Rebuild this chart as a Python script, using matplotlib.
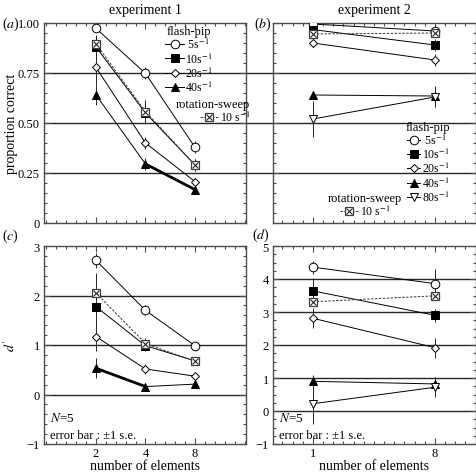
import numpy as np
import matplotlib
matplotlib.use("Agg")
import matplotlib.pyplot as plt
from matplotlib.lines import Line2D
from matplotlib.legend_handler import HandlerTuple
from matplotlib.ticker import FixedLocator, NullFormatter, MultipleLocator

plt.rcParams['font.family'] = ['Liberation Serif', 'DejaVu Serif']
plt.rcParams['mathtext.fontset'] = 'stix'
plt.rcParams['font.size'] = 9

# ---- data: experiment 1 (x = number of elements) ----
x_exp1 = [2, 4, 8]
# proportion correct
a_5 = [0.973, 0.748, 0.378];   a_5_err = [0.01, 0.03, 0.03]
a_10 = [0.88, 0.55, 0.29];     a_10_err = [0.06, 0.05, 0.03]
a_20 = [0.778, 0.40, 0.207];   a_20_err = [0.09, 0.03, 0.02]
a_40 = [0.64, 0.295, 0.167];   a_40_err = [0.05, 0.03, 0.02]
a_rot = [0.895, 0.557, 0.29];  a_rot_err = [0.04, 0.06, 0.03]
# d'
c_5 = [2.71, 1.70, 0.985];     c_5_err = [0.15, 0.1, 0.05]
c_10 = [1.775, 0.985, 0.68];   c_10_err = [0.35, 0.1, 0.05]
c_20 = [1.17, 0.515, 0.37];    c_20_err = [0.3, 0.1, 0.05]
c_40 = [0.53, 0.16, 0.21];     c_40_err = [0.2, 0.08, 0.05]
c_rot = [2.05, 1.03, 0.67];    c_rot_err = [0.4, 0.12, 0.05]

# ---- data: experiment 2 ----
x_exp2 = [1, 8]
b_5 = [0.995, 0.96];   b_5_err = [0.01, 0.03]
b_10 = [0.967, 0.89];  b_10_err = [0.02, 0.03]
b_20 = [0.90, 0.815];  b_20_err = [0.02, 0.03]
b_40 = [0.64, 0.635];  b_40_err = [0.01, 0.05]
b_80 = [0.52, 0.63];   b_80_err = [0.09, 0.05]
b_rot = [0.945, 0.95]; b_rot_err = [0.01, 0.01]
d_5 = [4.36, 3.86];    d_5_err = [0.2, 0.45]
d_10 = [3.64, 2.90];   d_10_err = [0.4, 0.2]
d_20 = [2.81, 1.92];   d_20_err = [0.3, 0.3]
d_40 = [0.90, 0.82];   d_40_err = [0.2, 0.2]
d_80 = [0.22, 0.72];   d_80_err = [0.6, 0.3]
d_rot = [3.31, 3.49];  d_rot_err = [0.05, 0.05]

a_yticks = [0, 0.25, 0.5, 0.75, 1.0]
a_yticklabels = ['0', '0.25', '0.50', '0.75', '1.00']
rate_labels = [' 5s$^{-1}$', '10s$^{-1}$', '20s$^{-1}$', '40s$^{-1}$', '80s$^{-1}$']
rot_label = '10 s$^{-1}$'

styles = {
    5: dict(marker='o', mfc='white', ms=6.2),
    10: dict(marker='s', mfc='black', ms=5.8),
    20: dict(marker='D', mfc='white', ms=4.3),
    40: dict(marker='^', mfc='black', ms=5.2),
    80: dict(marker='v', mfc='white', ms=5.6),
}
LW = 0.7


def series(ax, x, y, err, rate, thick=None):
    st = styles[rate]
    ax.errorbar(x, y, yerr=err, fmt='none', ecolor='0.15', elinewidth=0.7, capsize=0, zorder=2)
    ax.plot(x, y, color='black', lw=LW, mec='black', mew=0.7, zorder=3, **st)
    if thick is not None:
        ax.plot(x[thick:thick + 2], y[thick:thick + 2], color='black', lw=2.0, zorder=2.5)


def rot_series(ax, x, y, err):
    ax.errorbar(x, y, yerr=err, fmt='none', ecolor='0.15', elinewidth=0.7, capsize=0, zorder=2)
    ax.plot(x, y, color='0.2', lw=LW, ls=(0, (2.5, 1.5)), marker='s', mfc='white', mec='0.25',
            mew=0.9, ms=6.4, zorder=4)
    ax.plot(x, y, ls='none', marker='x', mec='0.15', mew=0.8, ms=4.2, zorder=5)


def rate_handle(rate):
    return Line2D([], [], color='black', lw=LW, mec='black', mew=0.7, **styles[rate])


def rot_handle():
    h1 = Line2D([], [], color='0.2', lw=LW, ls=(0, (2.5, 1.5)), marker='s', mfc='white', mec='0.25',
                mew=0.9, ms=6.4)
    h2 = Line2D([], [], ls='none', marker='x', mec='0.15', mew=0.8, ms=4.2)
    return (h1, h2)


def style_axis(ax, ymin, ymax, ymajor, yminor, xlim, xmajor, xminor_step):
    ax.set_xscale('log', base=2)
    ax.set_xlim(*xlim)
    lo, hi = np.log2(xlim[0]), np.log2(xlim[1])
    base = np.log2(xmajor[0])
    ks = np.arange(np.ceil((lo - base) / xminor_step), np.floor((hi - base) / xminor_step) + 1)
    ax.xaxis.set_major_locator(FixedLocator(xmajor))
    ax.xaxis.set_minor_locator(FixedLocator(2 ** (base + ks * xminor_step)))
    ax.xaxis.set_minor_formatter(NullFormatter())
    ax.set_ylim(ymin, ymax)
    ax.yaxis.set_major_locator(MultipleLocator(ymajor))
    ax.yaxis.set_minor_locator(MultipleLocator(yminor))
    ax.tick_params(which='both', direction='in', top=True, right=True, width=0.8, color='0.3')
    ax.tick_params(which='major', length=4, labelsize=9)
    ax.tick_params(axis='y', which='major', pad=3)
    ax.tick_params(axis='x', which='major', pad=2)
    ax.tick_params(which='minor', length=2.5)
    for sp in ax.spines.values():
        sp.set_linewidth(1.0)
        sp.set_color('0.3')


fig = plt.figure(figsize=(4.77, 4.77), dpi=100)
W = 477.0


def box(l, r, t, b):
    return [l / W, 1 - b / W, (r - l) / W, (b - t) / W]


ax_a = fig.add_axes(box(44, 246, 24, 224))
ax_b = fig.add_axes(box(273, 476, 24, 224))
ax_c = fig.add_axes(box(44, 246, 247, 445))
ax_d = fig.add_axes(box(273, 476, 247, 445))

xlim1 = (2 ** -0.05, 2 ** 4.03)
xlim2 = (2 ** -0.98, 2 ** 4.01)

style_axis(ax_a, 0, 1, 0.25, 0.05, xlim1, x_exp1, 0.2)
style_axis(ax_b, 0, 1, 0.25, 0.05, xlim2, x_exp2, 0.25)
style_axis(ax_c, -1, 3, 1, 0.2, xlim1, x_exp1, 0.2)
style_axis(ax_d, -1, 5, 1, 0.25, xlim2, x_exp2, 0.25)

ax_a.set_yticks(a_yticks, a_yticklabels)
ax_b.set_yticks(a_yticks, [])
ax_a.set_xticklabels([])
ax_b.set_xticklabels([])
ax_c.set_xticklabels([str(v) for v in x_exp1])
ax_d.set_xticklabels([str(v) for v in x_exp2])

# horizontal reference lines (top row spans across the gap)
gap = (273 - 246) / (246 - 44)
for y in a_yticks[1:4]:
    ax_a.axhline(y, xmin=0, xmax=1 + gap, color='0.15', lw=1.0, clip_on=False, zorder=1)
    ax_b.axhline(y, color='0.15', lw=1.0, zorder=1)
for y in [0, 1, 2]:
    ax_c.axhline(y, color='0.15', lw=1.0, zorder=1)
for y in [0, 1, 2, 3, 4]:
    ax_d.axhline(y, color='0.15', lw=1.0, zorder=1)

# panel (a)
series(ax_a, x_exp1, a_5, a_5_err, 5)
series(ax_a, x_exp1, a_10, a_10_err, 10)
series(ax_a, x_exp1, a_20, a_20_err, 20)
series(ax_a, x_exp1, a_40, a_40_err, 40, thick=1)
rot_series(ax_a, x_exp1, a_rot, a_rot_err)

# panel (b)
series(ax_b, x_exp2, b_5, b_5_err, 5)
series(ax_b, x_exp2, b_10, b_10_err, 10)
series(ax_b, x_exp2, b_20, b_20_err, 20)
series(ax_b, x_exp2, b_40, b_40_err, 40)
series(ax_b, x_exp2, b_80, b_80_err, 80)
rot_series(ax_b, x_exp2, b_rot, b_rot_err)

# panel (c)
series(ax_c, x_exp1, c_5, c_5_err, 5)
series(ax_c, x_exp1, c_10, c_10_err, 10)
series(ax_c, x_exp1, c_20, c_20_err, 20)
series(ax_c, x_exp1, c_40, c_40_err, 40, thick=0)
rot_series(ax_c, x_exp1, c_rot, c_rot_err)

# panel (d)
series(ax_d, x_exp2, d_5, d_5_err, 5)
series(ax_d, x_exp2, d_10, d_10_err, 10)
series(ax_d, x_exp2, d_20, d_20_err, 20)
series(ax_d, x_exp2, d_40, d_40_err, 40)
series(ax_d, x_exp2, d_80, d_80_err, 80)
rot_series(ax_d, x_exp2, d_rot, d_rot_err)

# legends
tuple_map = {tuple: HandlerTuple(ndivide=1, pad=0)}
leg_kw = dict(frameon=False, fontsize=8.5, title_fontsize=9, borderpad=0, borderaxespad=0,
              handlelength=1.6, handletextpad=0.1, labelspacing=0.0)
rates_a = [5, 10, 20, 40]
leg1 = ax_a.legend([rate_handle(r) for r in rates_a], rate_labels[:4], title='flash-pip',
                   loc='upper left', bbox_to_anchor=(0.6, 0.99), **leg_kw)
ax_a.add_artist(leg1)
leg2 = ax_a.legend([rot_handle()], [rot_label], title='rotation-sweep', handler_map=tuple_map,
                   loc='upper right', bbox_to_anchor=(1.02, 0.625), **leg_kw)
leg2._legend_box.align = 'right'

rates_b = [5, 10, 20, 40, 80]
leg_kw_b = dict(leg_kw, handlelength=1.1)
leg3 = ax_b.legend([rate_handle(r) for r in rates_b], rate_labels, title='flash-pip',
                   loc='lower left', bbox_to_anchor=(0.655, 0.095), **leg_kw_b)
ax_b.add_artist(leg3)
leg4 = ax_b.legend([rot_handle()], [rot_label], title='rotation-sweep', handler_map=tuple_map,
                   loc='lower left', bbox_to_anchor=(0.27, 0.025), **leg_kw)

# labels
ax_a.set_ylabel('proportion correct', fontsize=10)
ax_c.set_ylabel("$d'$", fontsize=10)
ax_a.yaxis.set_label_coords(-0.13, 0.5)
ax_c.yaxis.set_label_coords(-0.13, 0.5)
ax_c.set_xlabel('number of elements', fontsize=10, labelpad=0)
ax_d.set_xlabel('number of elements', fontsize=10, labelpad=0)
ax_a.set_title('experiment 1', fontsize=10, pad=7)
ax_b.set_title('experiment 2', fontsize=10, pad=7)

panel_pos = [(ax_a, 'a', -0.21, 1.0), (ax_b, 'b', -0.095, 1.0),
             (ax_c, 'c', -0.21, 1.055), (ax_d, 'd', -0.105, 1.06)]
for ax, lab, dx, dy in panel_pos:
    ax.text(dx, dy, '($\\mathit{%s}$)' % lab, transform=ax.transAxes,
            fontsize=10, ha='left', va='center')

for ax in (ax_c, ax_d):
    ax.text(0.03, 0.135, '$N$=5', transform=ax.transAxes, fontsize=9.5, ha='left', va='center')
    ax.text(0.03, 0.045, 'error bar : \u00b11 s.e.', transform=ax.transAxes, fontsize=9,
            ha='left', va='center')

fig.savefig('out.png', dpi=100)
